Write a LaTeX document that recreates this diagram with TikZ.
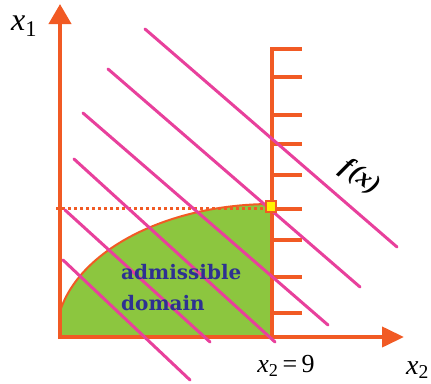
\documentclass[tikz,border=0pt]{standalone}
\usepackage{fontspec}
\setmainfont{Liberation Serif}
\newfontfamily\lblfont{Liberation Serif}
\newfontfamily\domainfont{DejaVu Serif}
\usetikzlibrary{arrows.meta}
\definecolor{axisorange}{HTML}{F15A24}
\definecolor{levelpink}{HTML}{E8409C}
\definecolor{domaingreen}{HTML}{8CC63F}
\definecolor{domainblue}{HTML}{2E3192}
\definecolor{optyellow}{HTML}{FFF200}
\tikzset{
  axis/.style={axisorange, line width=4pt},
  tick/.style={axisorange, line width=3.5pt},
  level/.style={levelpink, line width=3pt, line cap=round},
  axislbl/.style={inner sep=0pt, font=\lblfont\fontsize{28}{30}\selectfont},
}
\begin{document}
\begin{tikzpicture}[x=1pt,y=-1pt]
  \useasboundingbox (0,0) rectangle (431,383);
  % Admissible domain
  \begin{scope}
    \clip (60,0) rectangle (272,337);
    \fill[domaingreen] (272,337) ellipse [x radius=216, y radius=133];
    \draw[axisorange, line width=2pt] (272,337) ellipse [x radius=216, y radius=133];
  \end{scope}
  \draw[axisorange, line width=3pt, dash pattern=on 3pt off 3pt] (56,208) -- (266,208); % x1 level

  % Axes
  \draw[axis, -{Triangle[width=22pt,length=20pt]}] (60,339) -- (60,4);
  \draw[axis, -{Triangle[width=20pt,length=22pt]}] (58,337) -- (404,337);

  % Bound x2 = 9 with hatching
  \draw[axis] (272,337) -- (272,49);
  \foreach \ty in {49,77,115,144,175,209,240,277,313}
    \draw[tick] (270,\ty) -- (302,\ty);

  % Level lines of f(x)
  \draw[level] (145,29) -- (397,247);
  \draw[level] (108,69) -- (360,287);
  \draw[level] (83,113) -- (328,325);
  \draw[level] (74,159) -- (275,342);
  \draw[level] (65,210) -- (210,342);
  \draw[level] (63,260) -- (190,380);

  % Optimum
  \draw[axisorange, fill=optyellow, line width=2pt] (266,201) rectangle (276,212);

  % Labels
  \node[axislbl, font=\lblfont\fontsize{32}{34}\selectfont] (xone) at (24,26) {\textit{x}\textsubscript{1}};
  \node[axislbl, anchor=west] (xtwo) at (406,370) {\textit{x}\textsubscript{2}};
  \node[axislbl, font=\lblfont\fontsize{26}{28}\selectfont] (xnine) at (286,366) {\textit{x}\textsubscript{2}\,=\,9};
  \node[axislbl, rotate=-35, font=\lblfont\bfseries\itshape\fontsize{26}{28}\selectfont] (fx) at (360,177) {f\kern2pt(x)};
  \node[anchor=west, align=left, inner sep=0pt, text=domainblue,
        font=\domainfont\bfseries\fontsize{20}{31}\selectfont] (domain) at (121,288) {admissible\\domain};
\end{tikzpicture}
\end{document}
